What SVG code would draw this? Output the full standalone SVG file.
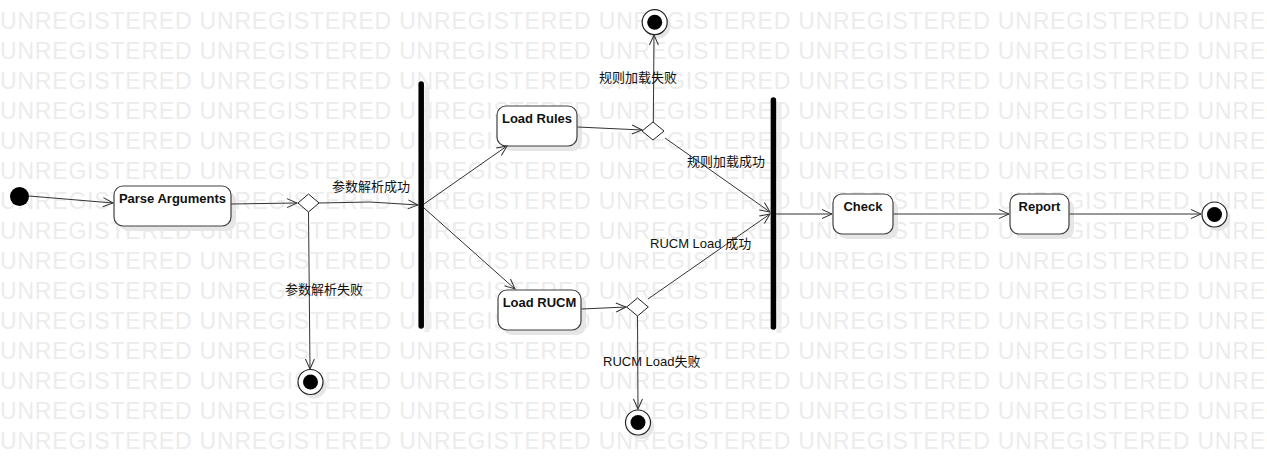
<svg xmlns="http://www.w3.org/2000/svg" xmlns:xlink="http://www.w3.org/1999/xlink" width="1267" height="475" viewBox="0 0 1267 475">
<style>
.wm{font-family:"Liberation Sans",Arial,sans-serif;font-size:23px;fill:#ececec}
.box{fill:#fff;stroke:#404040;stroke-width:1.2}
.sh{fill:#e6e6e6}
.bt{font-family:"Liberation Sans",Arial,sans-serif;font-size:13px;font-weight:bold;fill:#111;text-anchor:middle}
.lb{font-family:"Liberation Sans","Noto Sans CJK SC",sans-serif;font-size:13px;fill:#111}
.ln{fill:none;stroke:#333;stroke-width:1}
.dia{fill:#fff;stroke:#222;stroke-width:1}
.bar{stroke:#000;stroke-width:5.5;stroke-linecap:round}
.barsh{stroke:#ececec;stroke-width:5}
</style>
<defs>
<marker id="arr" markerUnits="userSpaceOnUse" markerWidth="14" markerHeight="12" viewBox="-12 -6 14 12" refX="0" refY="0" orient="auto">
<path d="M-10,-4.5 L0,0 L-10,4.5" fill="none" stroke="#333" stroke-width="1"/>
</marker>
<text id="wmrow" class="wm" x="0" y="0" textLength="1389" lengthAdjust="spacing">UNREGISTERED UNREGISTERED UNREGISTERED UNREGISTERED UNREGISTERED UNREGISTERED UNREGISTERED</text>
</defs>
<rect width="1267" height="475" fill="#fff"/>
<g id="watermark">
<use xlink:href="#wmrow" y="29.3"/>
<use xlink:href="#wmrow" y="59.3"/>
<use xlink:href="#wmrow" y="89.3"/>
<use xlink:href="#wmrow" y="119.3"/>
<use xlink:href="#wmrow" y="149.3"/>
<use xlink:href="#wmrow" y="179.3"/>
<use xlink:href="#wmrow" y="209.3"/>
<use xlink:href="#wmrow" y="239.3"/>
<use xlink:href="#wmrow" y="269.3"/>
<use xlink:href="#wmrow" y="299.3"/>
<use xlink:href="#wmrow" y="329.3"/>
<use xlink:href="#wmrow" y="359.3"/>
<use xlink:href="#wmrow" y="389.3"/>
<use xlink:href="#wmrow" y="419.3"/>
<use xlink:href="#wmrow" y="449.3"/>
</g>
<g id="initial">
<circle cx="19.5" cy="196.5" r="9.5" fill="#000"/>
</g>
<g id="parse-arguments">
<rect class="sh" x="119" y="191" width="117" height="40" rx="9"/>
<rect class="box" x="114" y="186" width="117" height="40" rx="9"/>
<text class="bt" x="172.5" y="203">Parse Arguments</text>
</g>
<g id="decision-parse">
<polygon class="dia" points="308.5,194 319,203 308.5,212 298,203"/>
</g>
<g id="final-parse-fail">
<circle cx="314" cy="386" r="12.5" fill="#e6e6e6"/>
<circle cx="310.5" cy="382" r="12.5" fill="#fff" stroke="#222" stroke-width="1.2"/>
<circle cx="310.5" cy="382" r="7.5" fill="#000"/>
</g>
<g id="fork">
<line class="barsh" x1="427" y1="86" x2="427" y2="332"/>
<line class="bar" x1="421.2" y1="84" x2="421.2" y2="326"/>
</g>
<g id="load-rules">
<rect class="sh" x="502" y="111" width="80" height="40" rx="9"/>
<rect class="box" x="497" y="106" width="80" height="40" rx="9"/>
<text class="bt" x="537" y="123">Load Rules</text>
</g>
<g id="decision-rules">
<polygon class="dia" points="653,122 664,131 653,140 642,131"/>
</g>
<g id="final-rules-fail">
<circle cx="658" cy="26" r="12.5" fill="#e6e6e6"/>
<circle cx="654.7" cy="22.2" r="12.5" fill="#fff" stroke="#222" stroke-width="1.2"/>
<circle cx="654.7" cy="22.2" r="7.5" fill="#000"/>
</g>
<g id="load-rucm">
<rect class="sh" x="503" y="295" width="83" height="40" rx="9"/>
<rect class="box" x="498" y="290" width="83" height="40" rx="9"/>
<text class="bt" x="539.5" y="307">Load RUCM</text>
</g>
<g id="decision-rucm">
<polygon class="dia" points="637.5,298 648.3,307 637.5,316 626.7,307"/>
</g>
<g id="final-rucm-fail">
<circle cx="641.5" cy="426.5" r="12.5" fill="#e6e6e6"/>
<circle cx="638" cy="422.5" r="12.5" fill="#fff" stroke="#222" stroke-width="1.2"/>
<circle cx="638" cy="422.5" r="7.5" fill="#000"/>
</g>
<g id="join">
<line class="barsh" x1="779" y1="102" x2="779" y2="333"/>
<line class="bar" x1="773.4" y1="100" x2="773.4" y2="327"/>
</g>
<g id="check">
<rect class="sh" x="838" y="199" width="60" height="40" rx="9"/>
<rect class="box" x="833" y="194" width="60" height="40" rx="9"/>
<text class="bt" x="863" y="211">Check</text>
</g>
<g id="report">
<rect class="sh" x="1015" y="199" width="59" height="40" rx="9"/>
<rect class="box" x="1010" y="194" width="59" height="40" rx="9"/>
<text class="bt" x="1039.5" y="211">Report</text>
</g>
<g id="final-end">
<circle cx="1218" cy="218.5" r="12.5" fill="#e6e6e6"/>
<circle cx="1214.5" cy="214.5" r="12.5" fill="#fff" stroke="#222" stroke-width="1.2"/>
<circle cx="1214.5" cy="214.5" r="7.5" fill="#000"/>
</g>
<g id="connectors">
<line class="ln" x1="29" y1="196" x2="113" y2="203" marker-end="url(#arr)"/>
<line class="ln" x1="231" y1="204" x2="297" y2="203" marker-end="url(#arr)"/>
<polyline class="ln" points="319,203 370,202 418,205" marker-end="url(#arr)"/>
<line class="ln" x1="424" y1="204" x2="507" y2="146" marker-end="url(#arr)"/>
<line class="ln" x1="424" y1="208" x2="515" y2="289" marker-end="url(#arr)"/>
<line class="ln" x1="577.6" y1="127" x2="642" y2="130" marker-end="url(#arr)"/>
<line class="ln" x1="653.3" y1="122" x2="654" y2="35" marker-end="url(#arr)"/>
<line class="ln" x1="665" y1="138" x2="770" y2="212" marker-end="url(#arr)"/>
<line class="ln" x1="581.6" y1="309" x2="626" y2="307" marker-end="url(#arr)"/>
<line class="ln" x1="648" y1="299" x2="770" y2="214" marker-end="url(#arr)"/>
<line class="ln" x1="637.5" y1="316" x2="638" y2="409" marker-end="url(#arr)"/>
<line class="ln" x1="308.5" y1="212" x2="310" y2="369" marker-end="url(#arr)"/>
<line class="ln" x1="776" y1="214" x2="832" y2="214" marker-end="url(#arr)"/>
<line class="ln" x1="893.6" y1="214" x2="1009" y2="214" marker-end="url(#arr)"/>
<line class="ln" x1="1069.6" y1="214" x2="1201" y2="214" marker-end="url(#arr)"/>
<text class="lb" x="332" y="190.5">参数解析成功</text>
<text class="lb" x="285" y="294">参数解析失败</text>
<text class="lb" x="599" y="82">规则加载失败</text>
<text class="lb" x="687" y="166">规则加载成功</text>
<text class="lb" x="650" y="248">RUCM Load 成功</text>
<text class="lb" x="603" y="366">RUCM Load失败</text>
</g>
</svg>
